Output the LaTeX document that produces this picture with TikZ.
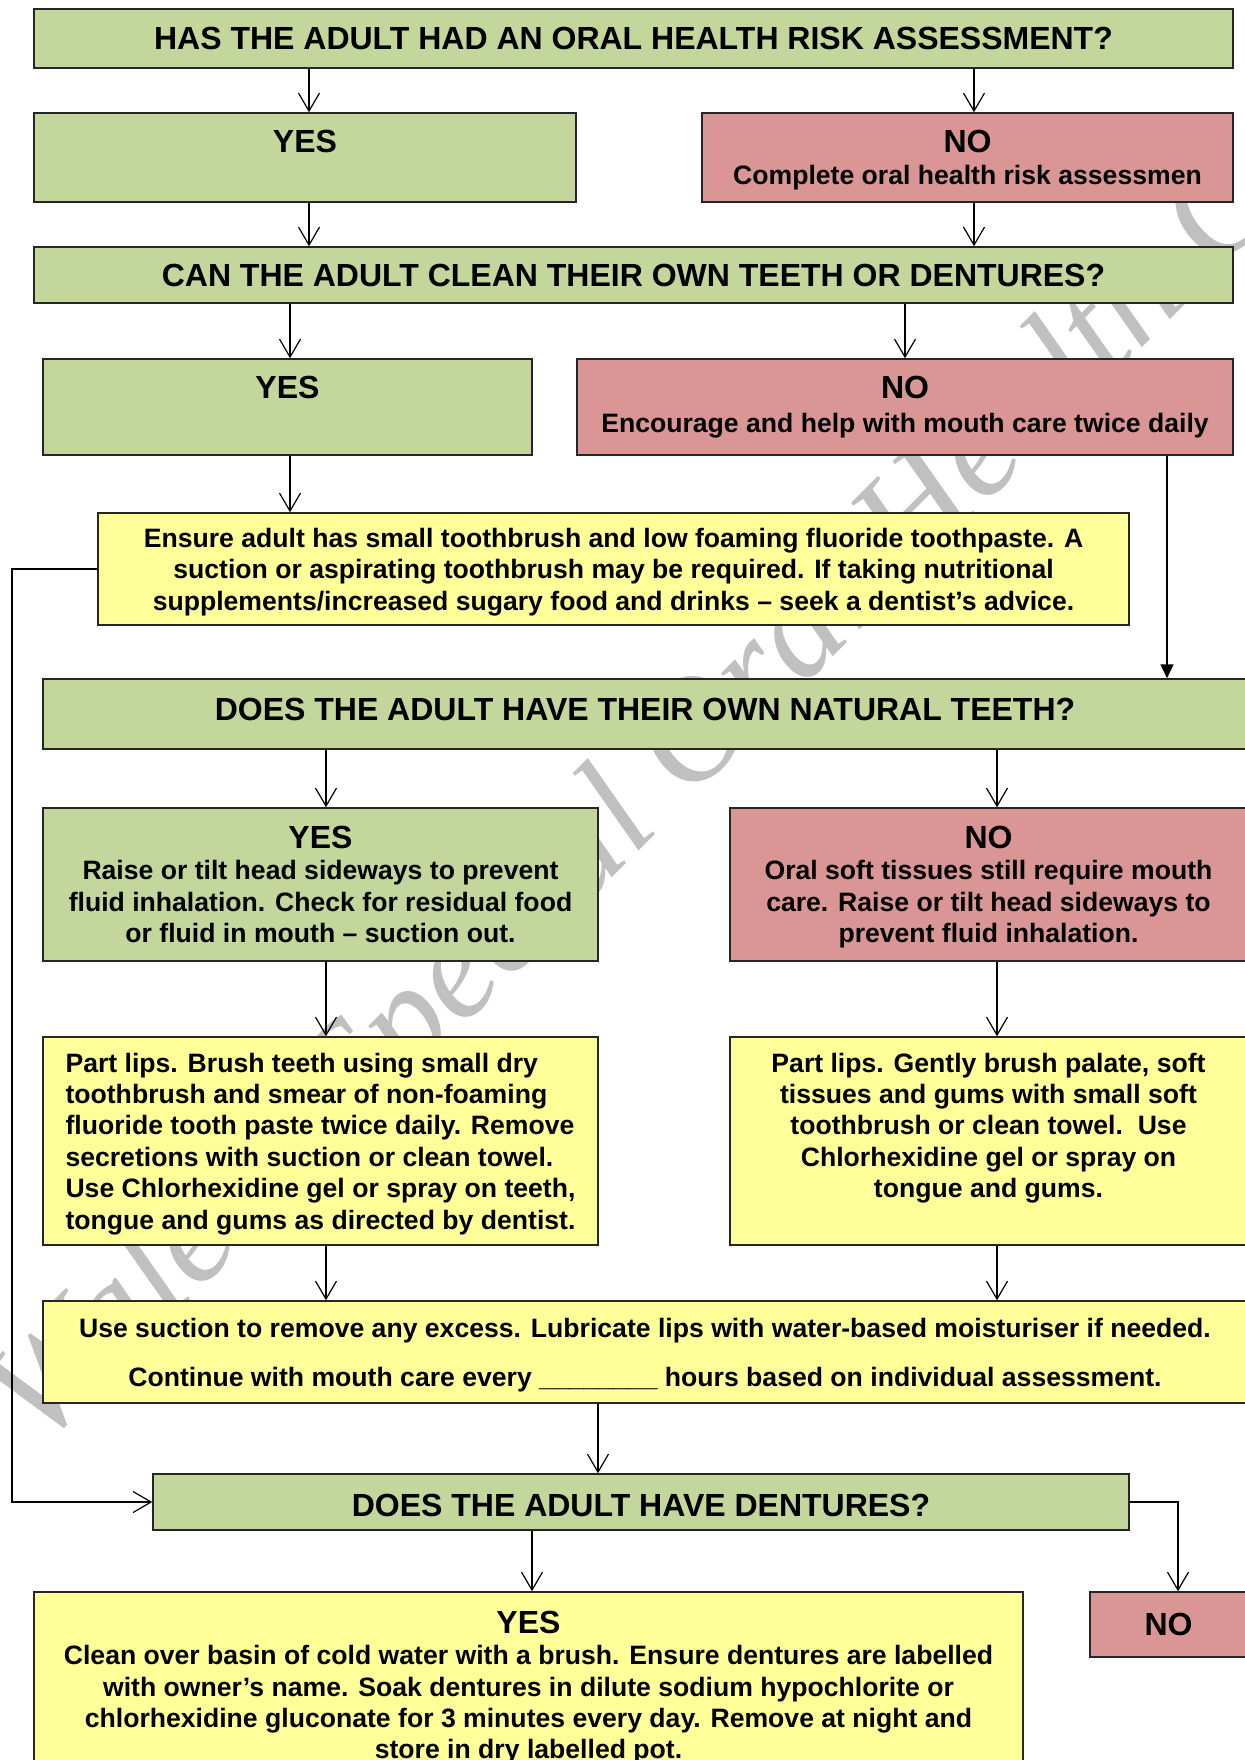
\documentclass[tikz,border=0pt]{standalone}
\usepackage{fontspec}
\setmainfont{Liberation Sans}
\newfontfamily\wmfont{Liberation Serif}
\usetikzlibrary{arrows.meta}

\definecolor{qgreen}{HTML}{C3D69B}
\definecolor{qred}{HTML}{D99694}
\definecolor{qyellow}{HTML}{FFFF99}
\definecolor{wmgrey}{HTML}{C0C0C0}

% heading and body sizes
\newcommand\hd{\fontsize{16}{16}\selectfont}
\newcommand\bd{\fontsize{13.3}{15.7}\selectfont}

% \flowbox{name}{x1}{y1}{x2}{y2}{style}{text}: a box given by its corners
\newcommand\flowbox[7]{%
  \node[#6, minimum width={(#4-(#2))*0.5pt}, minimum height={(#5-(#3))*0.5pt}]
    (#1) at ({(#2+#4)/2},{(#3+#5)/2}) {#7};}

\begin{document}
\begin{tikzpicture}[x=0.5pt,y=-0.5pt,
  fbox/.style={draw=black!85, line width=0.75pt, inner sep=0pt,
               font=\bfseries\bd, align=center, text depth=0pt},
  gbox/.style={fbox, fill=qgreen},
  rbox/.style={fbox, fill=qred},
  ybox/.style={fbox, fill=qyellow},
  arr/.style={line width=0.6pt, -{Straight Barb[length=9pt,width=10.5pt]}},
  farr/.style={line width=0.75pt, -{Triangle[length=7pt,width=6.5pt]}},
  wm/.style={font=\wmfont\itshape\fontsize{73}{80}\selectfont, text=wmgrey,
             rotate=45, anchor=base west, inner sep=0pt}]

\useasboundingbox (0,0) rectangle (1245,1760);
\clip (0,0) rectangle (1245,1760);

% background watermark
\node[wm] (wmark) at (40,1450) {Wales\hspace{35pt} Special Oral Health C};

% connector columns
\coordinate (c1) at (309,0);
\coordinate (c2) at (974,0);
\coordinate (c3) at (290,0);
\coordinate (c4) at (905,0);
\coordinate (c5) at (1167,0);
\coordinate (c6) at (326,0);
\coordinate (c7) at (997,0);
\coordinate (c8) at (598,0);
\coordinate (c9) at (532,0);
\coordinate (c10) at (1178,0);
\coordinate (c11) at (12,0);

% boxes
\flowbox{q1}{34}{9}{1233}{68}{gbox}{\hd HAS THE ADULT HAD AN ORAL HEALTH RISK ASSESSMENT?}
\flowbox{yes1}{34}{113}{576}{202}{gbox}{{\hd YES}\\\mbox{}}
\flowbox{no1}{702}{113}{1233}{202}{rbox}{{\hd NO}\\Complete oral health risk assessmen}
\flowbox{q2}{34}{247}{1233}{303}{gbox}{\hd CAN THE ADULT CLEAN THEIR OWN TEETH OR DENTURES?}
\flowbox{yes2}{43}{359}{532}{455}{gbox, text depth=2.8pt}{{\hd YES}\\[1.4pt]\mbox{}}
\flowbox{no2}{577}{359}{1233}{455}{rbox, text depth=2.8pt}{{\hd NO}\\[1.4pt]Encourage and help with mouth care twice daily}
\flowbox{yel1}{98}{513}{1129}{625}{ybox}{Ensure adult has small toothbrush and low foaming fluoride toothpaste. A\\
  suction or aspirating toothbrush may be required. If taking nutritional\\
  supplements/increased sugary food and drinks – seek a dentist’s advice.}
\flowbox{q3}{43}{679}{1247}{749}{gbox}{\raisebox{5pt}{\hd DOES THE ADULT HAVE THEIR OWN NATURAL TEETH?}}
\flowbox{yes3}{43}{808}{598}{961}{gbox}{{\hd YES}\\Raise or tilt head sideways to prevent\\
  fluid inhalation. Check for residual food\\
  or fluid in mouth – suction out.}
\flowbox{no3}{730}{808}{1247}{961}{rbox}{{\hd NO}\\Oral soft tissues still require mouth\\
  care. Raise or tilt head sideways to\\
  prevent fluid inhalation.}
\node[ybox, align=left, minimum width={(598-43)*0.5pt}, minimum height={(1245-1037)*0.5pt}]
  (act1) at ({(43+598)/2},{(1037+1245)/2})
  {Part lips. Brush teeth using small dry\\
   toothbrush and smear of non-foaming\\
   fluoride tooth paste twice daily. Remove\\
   secretions with suction or clean towel.\\
   Use Chlorhexidine gel or spray on teeth,\\
   tongue and gums as directed by dentist.};
\flowbox{act2}{730}{1037}{1247}{1245}{ybox}{Part lips. Gently brush palate, soft\\
  tissues and gums with small soft\\
  toothbrush or clean towel.\ \ Use\\
  Chlorhexidine gel or spray on\\
  tongue and gums.\\ \mbox{}}
\flowbox{suct}{43}{1301}{1247}{1403}{ybox}{Use suction to remove any excess. Lubricate lips with water-based moisturiser if needed.\\[8.8pt]
  Continue with mouth care every \_\_\_\_\_\_\_\_ hours based on individual assessment.}
\flowbox{q4}{153}{1474}{1129}{1530}{gbox}{\raisebox{-3.4pt}{\hd DOES THE ADULT HAVE DENTURES?}}
\flowbox{dyes}{34}{1592}{1023}{1778}{ybox}{{\hd YES}\\Clean over basin of cold water with a brush. Ensure dentures are labelled\\
  with owner’s name. Soak dentures in dilute sodium hypochlorite or\\
  chlorhexidine gluconate for 3 minutes every day. Remove at night and\\
  store in dry labelled pot.}
\flowbox{dno}{1090}{1592}{1247}{1657}{rbox}{\hd NO}

% connectors
\draw[arr] (q1.south -| c1) -- (yes1.north -| c1);
\draw[arr] (q1.south -| c2) -- (no1.north -| c2);
\draw[arr] (yes1.south -| c1) -- (q2.north -| c1);
\draw[arr] (no1.south -| c2) -- (q2.north -| c2);
\draw[arr] (q2.south -| c3) -- (yes2.north -| c3);
\draw[arr] (q2.south -| c4) -- (no2.north -| c4);
\draw[arr] (yes2.south -| c3) -- (yel1.north -| c3);
\draw[farr] (no2.south -| c5) -- (q3.north -| c5);
\draw[arr] (yel1.west) -- (yel1.west -| c11) -- (q4.west -| c11) -- (q4.west);
\draw[arr] (q3.south -| c6) -- (yes3.north -| c6);
\draw[arr] (q3.south -| c7) -- (no3.north -| c7);
\draw[arr] (yes3.south -| c6) -- (act1.north -| c6);
\draw[arr] (no3.south -| c7) -- (act2.north -| c7);
\draw[arr] (act1.south -| c6) -- (suct.north -| c6);
\draw[arr] (act2.south -| c7) -- (suct.north -| c7);
\draw[arr] (suct.south -| c8) -- (q4.north -| c8);
\draw[arr] (q4.south -| c9) -- (dyes.north -| c9);
\draw[arr] (q4.east) -| (dno.north -| c10);

\end{tikzpicture}
\end{document}
